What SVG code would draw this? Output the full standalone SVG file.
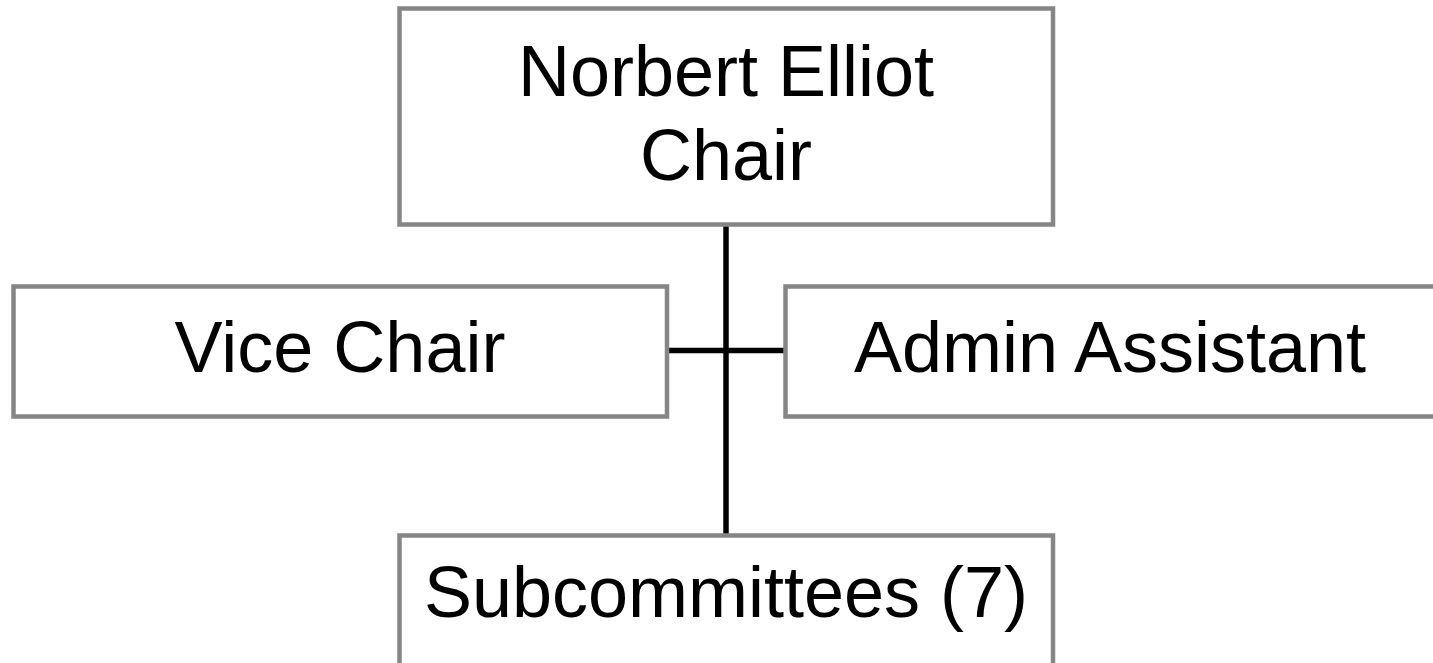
<svg xmlns="http://www.w3.org/2000/svg" width="1433" height="663" viewBox="0 0 1433 663">
<style>
.box{fill:#ffffff;stroke:#858585;stroke-width:4.5}
.lbl{font-family:"Liberation Sans",Arial,sans-serif;font-size:72px;fill:#000000;text-anchor:middle}
.conn{stroke:#000000;stroke-width:5.5;fill:none}
</style>
<rect width="1433" height="663" fill="#ffffff"/>
<g id="connectors">
<line class="conn" x1="726" y1="224.5" x2="726" y2="535.5"/>
<line class="conn" x1="667" y1="350.5" x2="785.5" y2="350.5"/>
</g>
<g id="chair">
<rect class="box" x="399.5" y="8.5" width="653.5" height="216"/>
<text class="lbl" x="726" y="96">Norbert Elliot</text>
<text class="lbl" x="726" y="180">Chair</text>
</g>
<g id="vice-chair">
<rect class="box" x="13.5" y="286.5" width="653.5" height="130"/>
<text class="lbl" x="340" y="372">Vice Chair</text>
</g>
<g id="admin-assistant">
<rect class="box" x="785.5" y="286.5" width="650" height="130"/>
<text class="lbl" x="1110" y="372">Admin Assistant</text>
</g>
<g id="subcommittees">
<rect class="box" x="399.5" y="535.5" width="653.5" height="140"/>
<text class="lbl" x="726" y="617">Subcommittees (7)</text>
</g>
</svg>
